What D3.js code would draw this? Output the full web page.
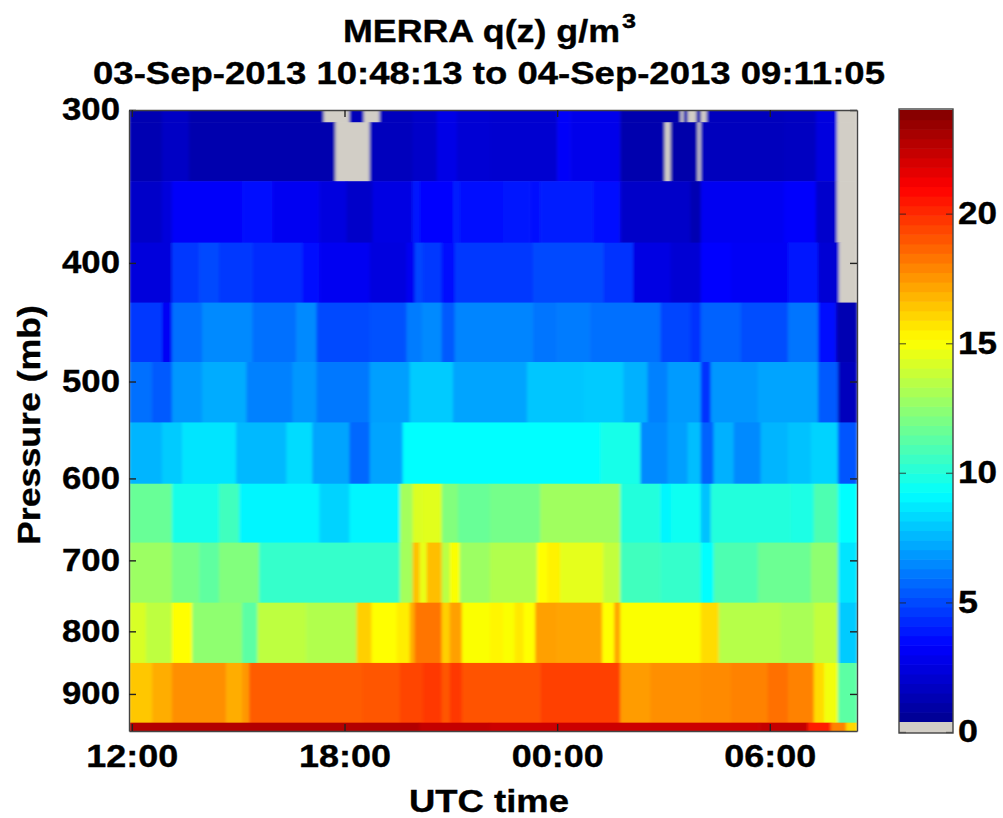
<!DOCTYPE html>
<html><head><meta charset="utf-8">
<script src="https://cdn.jsdelivr.net/npm/d3@7"></script>
<style>html,body{margin:0;padding:0;background:#fff}svg{display:block}text{font-family:"Liberation Sans",Arial,sans-serif;font-weight:bold;fill:#000;stroke:#000;stroke-width:0.35px}</style>
</head><body><svg id="c" width="1003" height="818"></svg>
<script>
const titleLine1 = "MERRA q(z) g/m";
const titleLine2 = "03-Sep-2013 10:48:13 to 04-Sep-2013 09:11:05";
const xLabel = "UTC time", yLabel = "Pressure (mb)";
const pressureTicks = [300,400,500,600,700,800,900];
const timeTicks = [12,18,24,30];
const timeTickLabels = ["12:00","18:00","00:00","06:00"];
const colorTicks = [0,5,10,15,20];
const timeDomain = [11.92,32.46];
const pressureEdges = [300,307,343,385,431,482,540,606,677,758,849,950,965];
// each row: runs of [end hour, q in g/m3]; null = no data
const rowA0 = [[12.85,1.3],[13.61,1.8],[17.41,1.2],[18.14,null],[18.54,1.5],[18.99,null],[19.92,1.6],[20.6,1.9],[21.17,2.7],[22.10,2.2],[24.00,2.1],[24.37,3.2],[25.78,2.8],[27.48,1.2],[27.57,null],[27.68,1.2],[27.93,null],[28.05,1.2],[28.22,null],[30.40,1.6],[31.30,1.7],[31.89,2.5],[32.46,null]];
const rowA = [[12.85,1.3],[13.61,1.8],[17.74,1.2],[18.71,null],[19.92,1.6],[20.6,1.9],[21.17,2.7],[22.10,2.2],[24.00,2.1],[24.37,3.2],[25.78,2.8],[27.03,1.2],[27.20,null],[27.96,1.1],[28.05,null],[30.40,1.6],[31.30,1.7],[31.89,2.5],[32.46,null]];
const rowB = [[12.85,1.9],[13.13,2.4],[15.11,3.2],[15.96,3.6],[17.29,3.0],[18.06,2.5],[18.79,1.9],[19.92,2.6],[20.12,3.9],[21.06,3.4],[21.25,4.0],[22.47,3.7],[23.24,3.9],[23.52,3.6],[25.02,4.0],[25.78,3.5],[27.76,1.9],[28.05,1.3],[30.40,3.0],[31.30,3.3],[31.89,2.0],[32.46,null]];
const rowC = [[13.13,2.4],[13.90,4.6],[14.46,5.0],[15.40,4.6],[16.81,4.3],[17.29,3.6],[18.71,3.0],[19.75,2.5],[19.98,3.0],[20.21,4.9],[20.74,4.6],[21.11,3.5],[23.32,4.6],[25.30,5.0],[26.15,4.5],[27.20,2.6],[28.05,2.2],[28.90,3.4],[30.51,3.1],[31.36,3.8],[31.95,2.2],[32.46,null]];
const rowD = [[12.85,4.6],[13.13,3.1],[13.98,5.9],[15.40,6.5],[16.64,5.9],[17.21,6.5],[18.71,5.0],[19.75,5.2],[20.18,6.2],[20.74,6.5],[21.11,5.4],[23.32,6.4],[24.00,6.0],[24.93,6.2],[26.91,5.9],[27.76,4.9],[28.05,4.5],[29.18,5.6],[30.51,5.1],[31.36,6.0],[31.87,3.5],[32.46,1.3]];
const rowE = [[12.57,5.9],[13.13,5.4],[13.98,6.8],[15.23,7.3],[16.53,6.3],[17.21,6.8],[18.71,6.1],[19.84,7.0],[21.06,8.0],[23.15,7.1],[24.74,7.9],[25.87,8.0],[26.55,7.4],[27.11,6.3],[28.05,6.9],[28.33,4.5],[29.66,6.8],[31.36,7.1],[31.92,5.4],[32.46,1.6]];
const rowF = [[12.85,7.5],[13.42,8.0],[14.94,8.6],[16.36,7.6],[17.09,8.4],[18.14,7.1],[18.71,5.7],[19.64,7.1],[25.22,9.2],[26.35,9.7],[27.11,6.5],[27.68,7.0],[28.05,7.7],[28.41,5.6],[28.98,7.4],[29.74,6.5],[30.51,7.5],[31.16,7.8],[31.92,8.2],[32.46,5.3]];
const rowG = [[13.13,11.6],[14.46,9.7],[15.03,10.7],[17.29,9.0],[18.14,8.2],[19.56,9.0],[19.92,13.0],[20.21,14.3],[20.74,14.4],[21.20,12.2],[22.10,11.6],[23.52,11.9],[25.78,12.9],[26.91,10.0],[27.20,9.0],[28.05,9.5],[28.33,7.8],[30.59,10.0],[31.24,9.8],[31.92,11.0],[32.46,9.2]];
const rowH = [[13.13,12.8],[13.90,12.0],[14.46,11.4],[15.59,12.2],[19.56,10.4],[19.92,13.0],[20.12,16.5],[20.32,14.6],[20.74,16.6],[20.97,13.5],[21.25,15.0],[22.10,12.8],[23.43,13.3],[23.72,15.1],[24.08,15.4],[25.30,14.5],[25.78,13.7],[26.91,10.7],[28.05,10.4],[28.41,9.2],[29.66,11.0],[31.16,11.7],[31.92,12.5],[32.46,8.6]];
const rowI = [[12.40,14.2],[13.13,13.6],[13.70,15.1],[15.11,12.5],[15.54,11.3],[16.92,13.6],[18.34,13.3],[18.76,16.2],[19.47,15.1],[19.84,15.5],[19.98,17.0],[20.74,18.3],[20.97,16.2],[21.31,17.3],[22.10,15.0],[22.47,15.3],[22.80,15.0],[23.05,15.6],[23.38,15.1],[24.00,17.3],[25.27,17.2],[25.61,15.1],[25.78,17.2],[26.55,15.0],[28.05,15.0],[28.56,15.9],[30.31,13.4],[31.24,13.1],[31.92,13.7],[32.46,8.0]];
const rowJ = [[12.57,16.4],[13.13,17.0],[14.66,17.7],[15.11,17.0],[15.31,17.5],[18.51,18.9],[19.56,19.0],[20.21,19.4],[20.74,19.7],[20.97,19.0],[21.31,19.7],[23.52,19.1],[25.78,19.5],[26.63,17.4],[28.05,17.7],[28.90,17.8],[29.94,18.0],[30.51,18.4],[31.24,18.0],[31.53,15.9],[31.92,14.8],[32.46,11.3]];
const rowK = [[20.12,22.8],[22.10,22.4],[29.70,22.2],[31.07,22.4],[31.72,20.3],[32.15,18.0],[32.46,16.0]];
const rows = [rowA0,rowA,rowB,rowC,rowD,rowE,rowF,rowG,rowH,rowI,rowJ,rowK];
// jet colormap stops
const jetValues = [0.4,3.34,9.2,15.1,21,24];
const jetColors = ["#000090","#0000ff","#00ffff","#ffff00","#ff0000","#800000"];
const noDataColor = "#d2cec6";

const svg = d3.select("#c");
const defs = svg.append("defs");
defs.append("filter").attr("id","soft").attr("x","-2%").attr("y","-2%").attr("width","104%").attr("height","104%")
  .append("feGaussianBlur").attr("stdDeviation","1.6 0.6");
const L=129,R=857,T=110,B=731;
const x = d3.scaleLinear().domain(timeDomain).range([L,R]);
const y = d3.scaleLog().domain([300,965]).range([T,B]);
const jet = d3.scaleLinear().domain(jetValues).range(jetColors).clamp(true);

const clip = defs.append("clipPath").attr("id","pc").append("rect").attr("x",L).attr("y",T).attr("width",R-L).attr("height",B-T);
const heat = svg.append("g").attr("clip-path","url(#pc)").append("g").attr("filter","url(#soft)");
rows.forEach((row,i)=>{
  let prev = timeDomain[0];
  row.forEach(([end,q])=>{
    heat.append("rect").attr("x",x(prev)).attr("width",x(end)-x(prev)+0.6)
      .attr("y",y(pressureEdges[i])).attr("height",y(pressureEdges[i+1])-y(pressureEdges[i])+0.6)
      .attr("fill",q===null?noDataColor:jet(q));
    prev=end;
  });
});

function fit(sel,fs,w){sel.attr("font-size",fs).attr("textLength",w).attr("lengthAdjust","spacingAndGlyphs");}

// axes
const axL = svg.append("g").attr("transform",`translate(${L},0)`).call(d3.axisLeft(y).tickValues(pressureTicks).tickFormat(d3.format("d")).tickSizeInner(-7).tickSizeOuter(0).tickPadding(9));
const axR = svg.append("g").attr("transform",`translate(${R},0)`).call(d3.axisRight(y).tickValues(pressureTicks).tickFormat("").tickSizeInner(-7).tickSizeOuter(0));
const axB = svg.append("g").attr("transform",`translate(0,${B})`).call(d3.axisBottom(x).tickValues(timeTicks).tickFormat((d,i)=>timeTickLabels[i]).tickSizeInner(-7).tickSizeOuter(0).tickPadding(14));
const axT = svg.append("g").attr("transform",`translate(0,${T})`).call(d3.axisTop(x).tickValues(timeTicks).tickFormat("").tickSizeInner(-7).tickSizeOuter(0));
[axL,axR,axB,axT].forEach(a=>{a.select(".domain").attr("stroke","#444").attr("stroke-width",1.4);a.selectAll("line").attr("stroke","#222").attr("stroke-width",1.4);});
axL.selectAll("text").attr("fill","#000").each(function(){fit(d3.select(this),31,58);});
axB.selectAll("text").attr("fill","#000").each(function(){fit(d3.select(this),31,92);});
svg.selectAll("g").attr("font-family",null);

// colorbar
const cbL=899,cbR=953,cbT=109,cbB=733,cbGray=722;
const c = d3.scaleLinear().domain([0,24]).range([cbB-1,cbT+1]);
const cb = svg.append("g");
const barSteps = d3.range(0,64);
const barV = t=>0.4+(t)*(24-0.4)/64;
cb.append("g").selectAll("rect").data(barSteps).join("rect")
  .attr("x",cbL).attr("width",cbR-cbL)
  .attr("y",t=>c(barV(t+1))).attr("height",t=>c(barV(t))-c(barV(t+1))+0.6)
  .attr("fill",t=>jet(barV(t+0.5)));
cb.append("rect").attr("x",cbL).attr("y",cbGray).attr("width",cbR-cbL).attr("height",cbB-cbGray).attr("fill",noDataColor);
const axC = svg.append("g").attr("transform",`translate(${cbR},0)`).call(d3.axisRight(c).tickValues(colorTicks).tickFormat(d3.format("d")).tickSizeInner(-7).tickSizeOuter(0).tickPadding(5));
const axC2 = svg.append("g").attr("transform",`translate(${cbL},0)`).call(d3.axisLeft(c).tickValues(colorTicks).tickFormat("").tickSizeInner(-7).tickSizeOuter(0));
[axC,axC2].forEach(a=>{a.select(".domain").remove();a.selectAll("line").attr("stroke","#222").attr("stroke-opacity",0.6).attr("stroke-width",1.4);});
axC.selectAll("text").attr("fill","#000").each(function(d){fit(d3.select(this),31,d<10?20:39);});
svg.append("rect").attr("x",cbL).attr("y",cbT).attr("width",cbR-cbL).attr("height",cbB-cbT).attr("fill","none").attr("stroke","#444").attr("stroke-width",1.4);

// titles
const t1 = svg.append("text").attr("x",343).attr("y",42).text(titleLine1);
fit(t1,31,277);
const t1s = svg.append("text").attr("x",622).attr("y",28).text("3");
fit(t1s,21,14);
const t2 = svg.append("text").attr("x",93).attr("y",84).text(titleLine2);
fit(t2,31,792);
const xl = svg.append("text").attr("x",409).attr("y",812).text(xLabel);
fit(xl,31,160);
const yl = svg.append("text").attr("transform","translate(40,545) rotate(-90)").text(yLabel);
fit(yl,31,240);
</script></body></html>
